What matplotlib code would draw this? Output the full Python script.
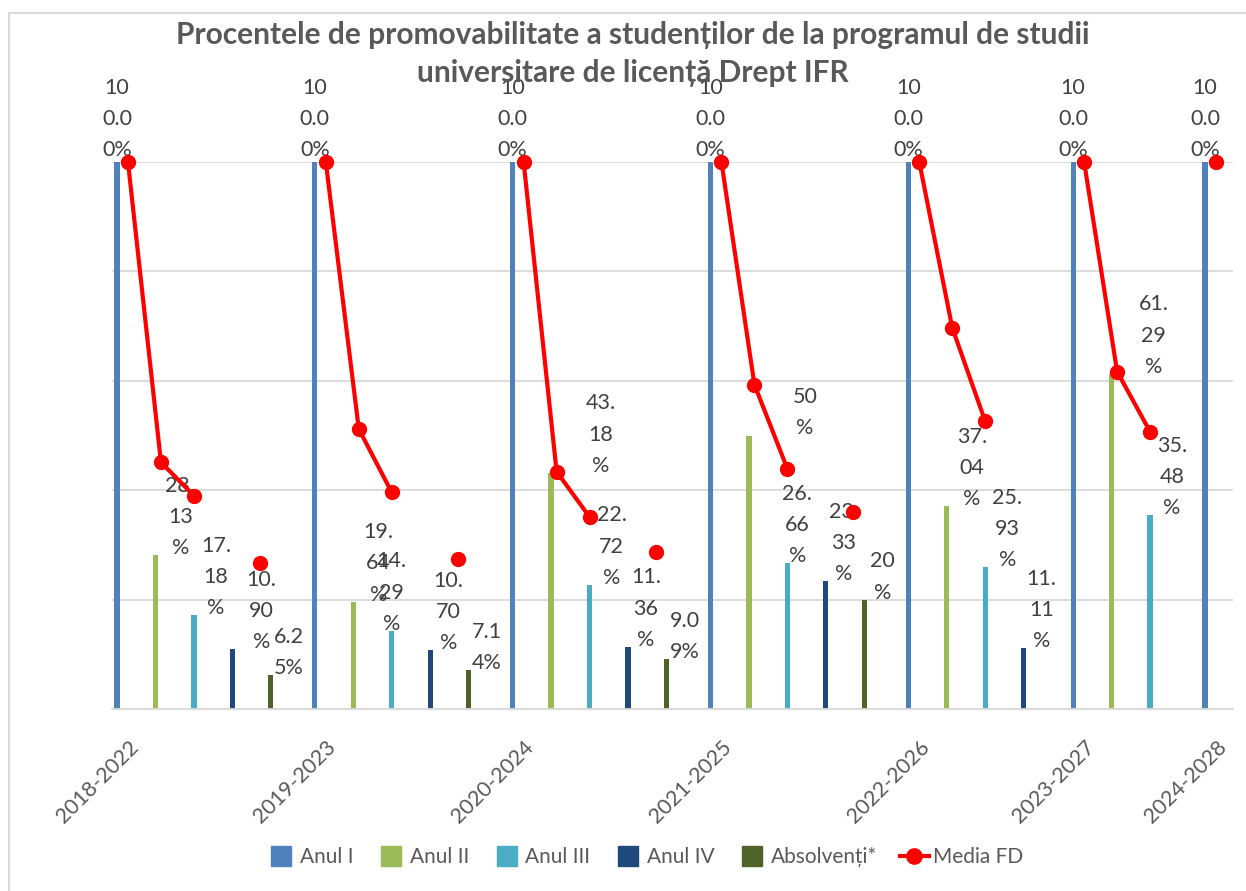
import numpy as np
import matplotlib.pyplot as plt
from matplotlib.lines import Line2D

plt.rcParams['font.family'] = ['Lato', 'DejaVu Sans']

# source table: each cohort occupies a block of rows (years + one blank spacer row)
cohorts = ["2018-2022", "2019-2023", "2020-2024", "2021-2025", "2022-2026", "2023-2027", "2024-2028"]
cohort_rows = [6, 6, 6, 6, 5, 4, 1]

series_names = ["Anul I", "Anul II", "Anul III", "Anul IV", "Absolvenți*"]
anul_1 = ["100.00%", "100.00%", "100.00%", "100.00%", "100.00%", "100.00%", "100.00%"]
anul_2 = ["28.13%", "19.64%", "43.18%", "50%", "37.04%", "61.29%", None]
anul_3 = ["17.18%", "14.29%", "22.72%", "26.66%", "25.93%", "35.48%", None]
anul_4 = ["10.90%", "10.70%", "11.36%", "23.33%", "11.11%", None, None]
absolventi = ["6.25%", "7.14%", "9.09%", "20%", None, None, None]
series = [anul_1, anul_2, anul_3, anul_4, absolventi]

# Media FD per cohort, one value per study year (None = missing)
media_fd = [
    [100, 45.1, 39.0, None, 26.7],
    [100, 51.2, 39.6, None, 27.5],
    [100, 43.4, 35.1, None, 28.7],
    [100, 59.3, 43.9, None, 36.1],
    [100, 69.7, 52.6],
    [100, 61.7, 50.7],
    [100],
]

colors = ["#4F81BD", "#9BBB59", "#4BACC6", "#1F497D", "#4F6228"]
red = "#FF0000"
txt = "#404040"
grey = "#595959"

# label nudges in pixels (dx) for a few labels Excel placed differently
label_dx = [0, 25, 22, 18, 18]
label_nudge = {(1, 2): 50, (1, 3): 56, (1, 5): 42, (2, 1): 0, (2, 3): 10, (3, 0): 29}

starts = np.concatenate([[0], np.cumsum(cohort_rows)[:-1]])
n_rows = int(sum(cohort_rows))

def wrap(s, maxw=2.6):
    w = {'.': 0.5, '%': 1.4}
    lines, cur, cw = [], "", 0.0
    for ch in s:
        cwid = w.get(ch, 1.0)
        if cur and cw + cwid > maxw:
            lines.append(cur)
            cur, cw = "", 0.0
        cur += ch
        cw += cwid
    lines.append(cur)
    return "\n".join(lines)

fig = plt.figure(figsize=(12.46, 8.91), dpi=100)
ax = fig.add_axes([111.5 / 1246, 1 - 709 / 891, 1121 / 1246, 547 / 891])

slot = 5.5 / 33
for k, vals in enumerate(series):
    for c, v in enumerate(vals):
        if v is None:
            continue
        val = float(v.rstrip('%'))
        x = starts[c] + k + (k - 2) * slot
        ax.bar(x, val, width=slot * 0.95, color=colors[k], zorder=2)
        dx = label_nudge.get((k, c), label_dx[k])
        dy = 2 if k == 0 else -3
        ax.annotate(wrap(v), (x, val), xytext=(dx, dy), textcoords='offset pixels',
                    ha='center', va='bottom', fontsize=15.5, color=txt,
                    linespacing=1.7, annotation_clip=False, zorder=3)

fd = np.full(n_rows, np.nan)
for c, vals in enumerate(media_fd):
    for i, v in enumerate(vals):
        if v is not None:
            fd[starts[c] + i] = v
ax.plot(np.arange(n_rows), fd, color=red, lw=3, marker='o', markersize=10,
        zorder=5, clip_on=False)

ax.set_xlim(-0.5, n_rows - 0.5)
ax.set_ylim(0, 100)
ax.set_yticks(np.arange(0, 101, 20))
ax.yaxis.grid(True, color="#D9D9D9", lw=1.3)
ax.set_axisbelow(True)
ax.tick_params(axis='y', left=False, labelleft=False)
ax.set_xticks(starts)
ax.set_xticklabels(cohorts, rotation=45, ha='right', rotation_mode='anchor',
                   fontsize=15.5, color=grey)
ax.tick_params(axis='x', length=0, pad=20)
for s in ['top', 'right', 'left']:
    ax.spines[s].set_visible(False)
ax.spines['bottom'].set_color("#D9D9D9")
ax.spines['bottom'].set_linewidth(1.3)

fig.text(633 / 1246, 1 - 21 / 891,
         "Procentele de promovabilitate a studenților de la programul de studii\n"
         "universitare de licență Drept IFR",
         ha='center', va='top', fontsize=21.5, fontweight='bold', color=grey,
         linespacing=1.45)

handles = [Line2D([], [], marker='s', linestyle='none', markersize=15, color=col)
           for col in colors]
handles.append(Line2D([], [], color=red, lw=3, marker='o', markersize=11))
fig.legend(handles, series_names + ["Media FD"], loc='center',
           bbox_to_anchor=(645 / 1246, 34 / 891), ncol=6, frameon=False,
           fontsize=15, labelcolor=grey, handlelength=1.4, handletextpad=0.2,
           columnspacing=1.1)

# chart area border
fig.add_artist(Line2D([9 / 1246, 9 / 1246], [0, 1 - 13 / 891], color="#D9D9D9", lw=1.5))
fig.add_artist(Line2D([9 / 1246, 1], [1 - 13 / 891, 1 - 13 / 891], color="#D9D9D9", lw=1.5))

fig.savefig("out.png", dpi=100)
